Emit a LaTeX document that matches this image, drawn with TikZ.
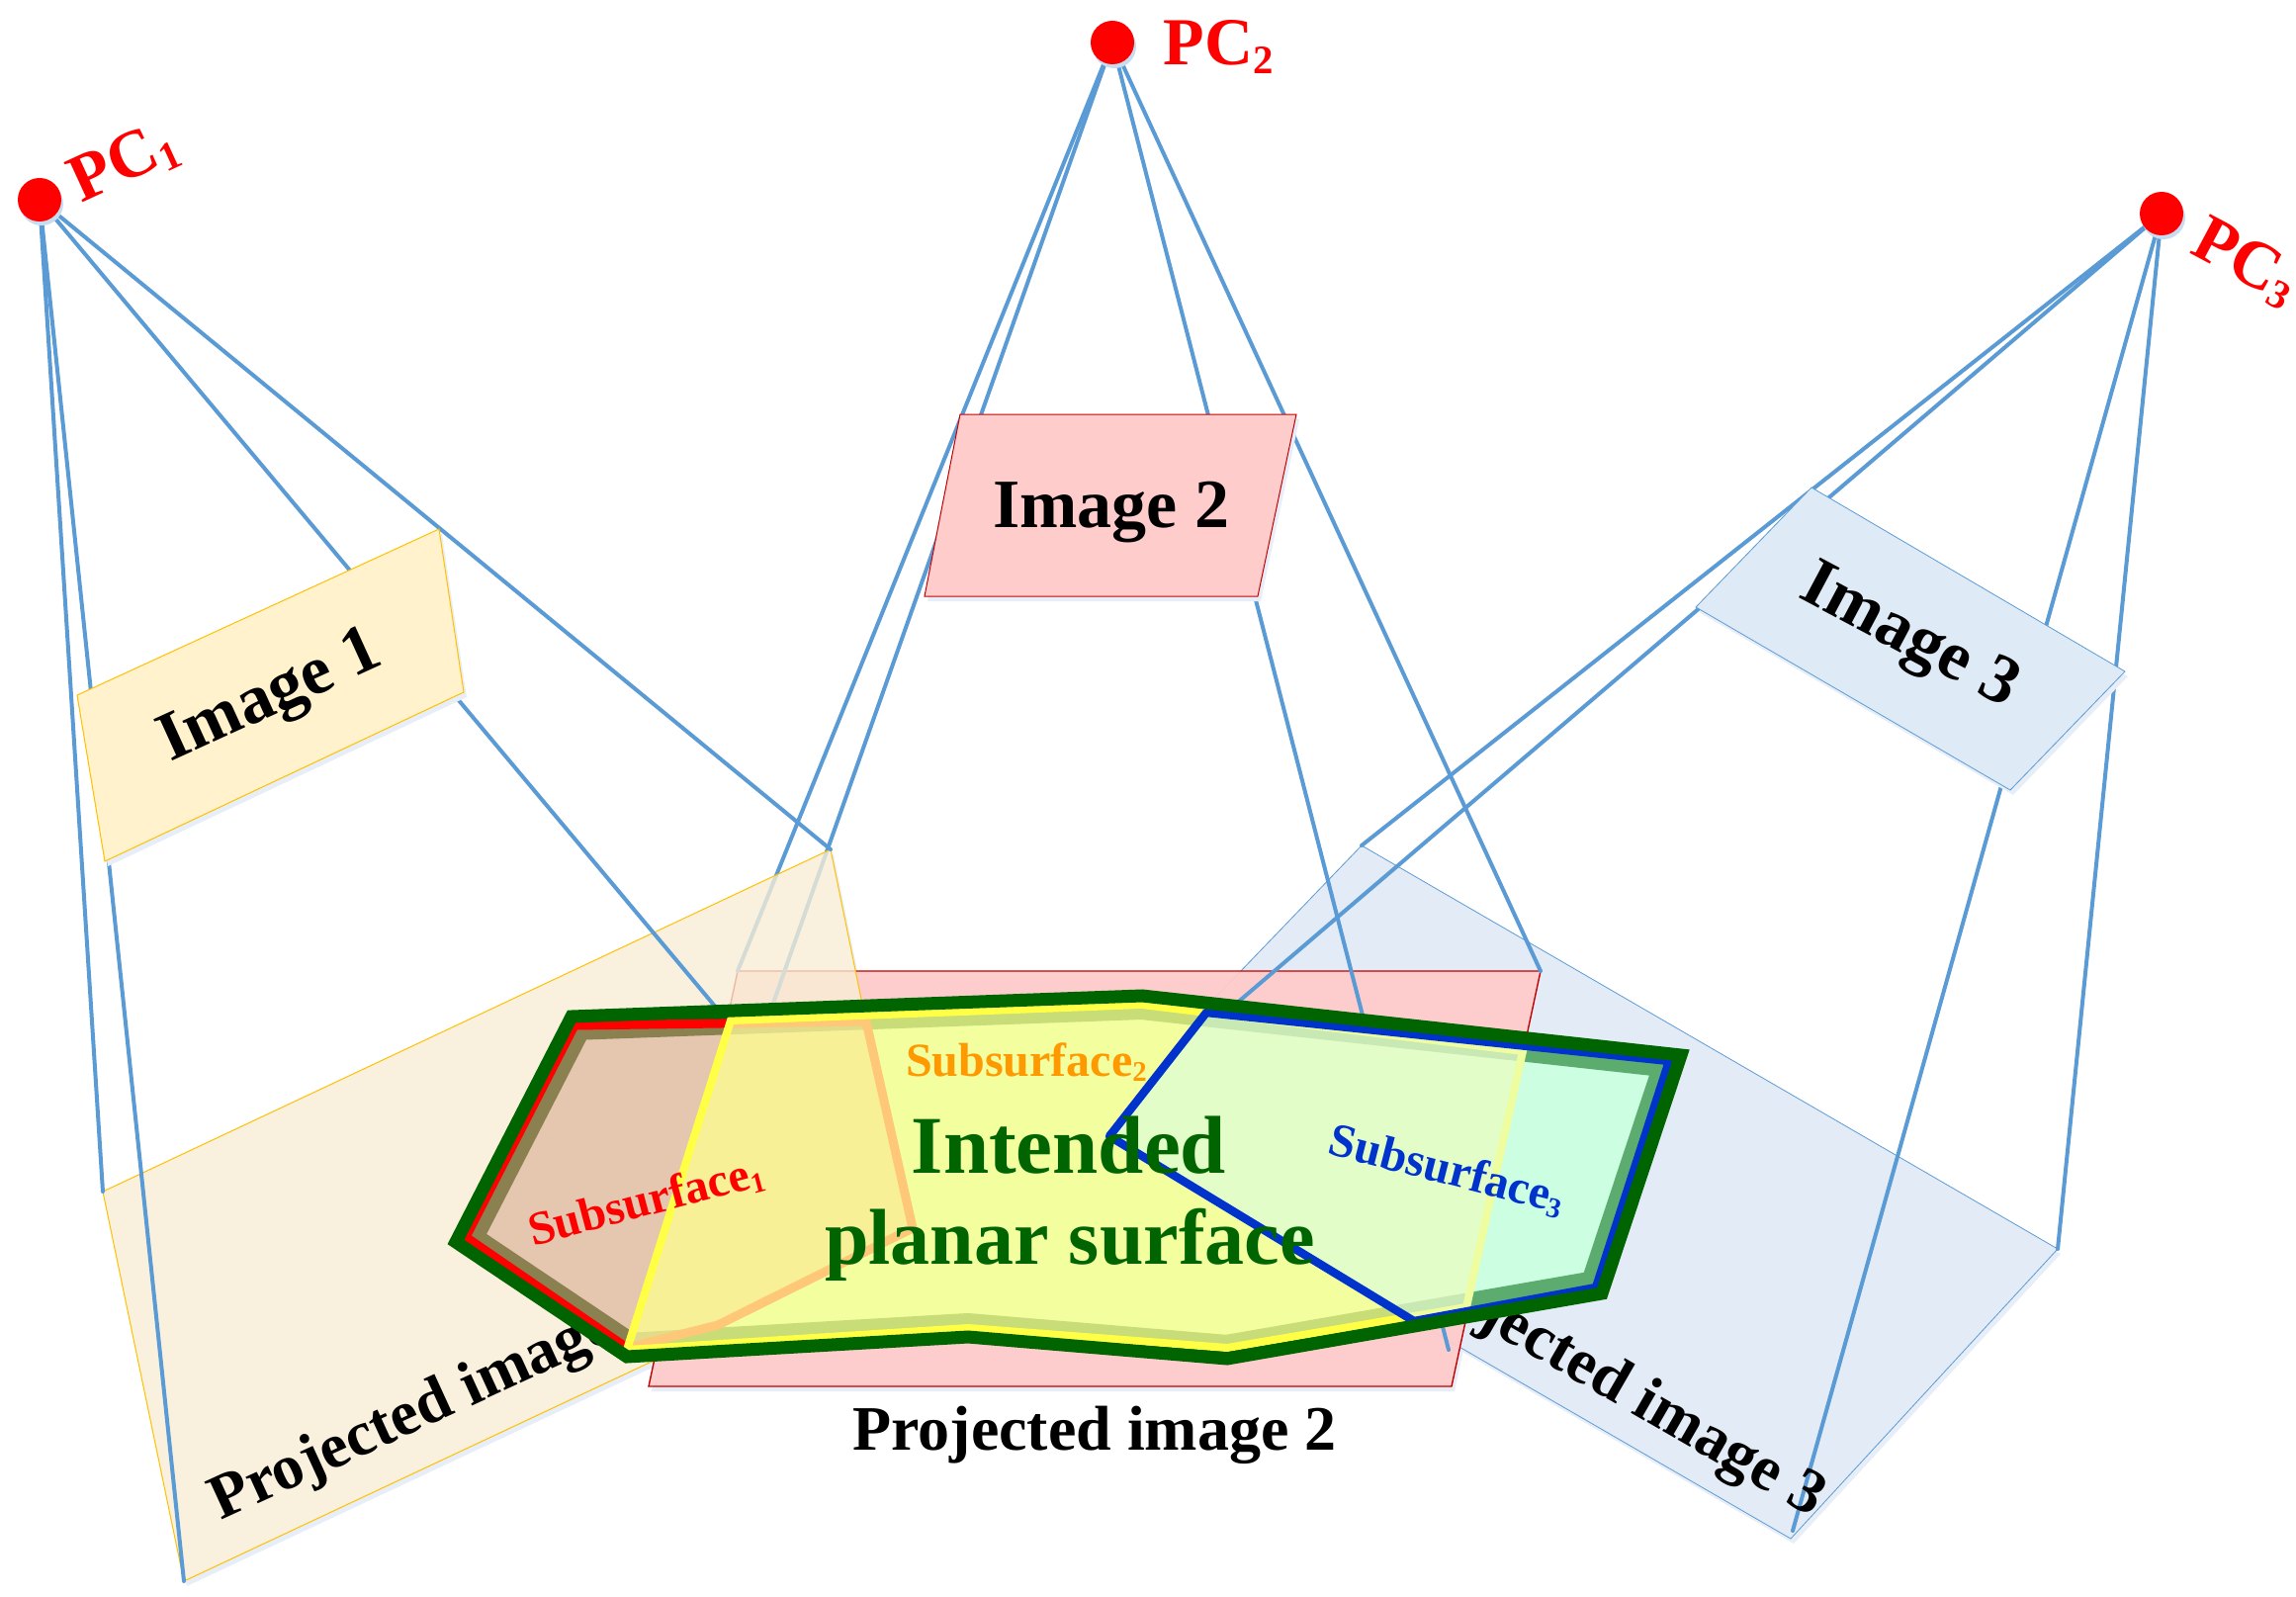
\documentclass[tikz,border=0pt]{standalone}
\usepackage{fontspec}
\setmainfont{Liberation Serif}
\newcommand{\sbn}[1]{\raisebox{-0.12em}{\scalebox{0.6}{#1}}}
\definecolor{ray}{HTML}{5B9BD5}
\definecolor{shadowc}{HTML}{E8EEF7}
\definecolor{dkgreen}{HTML}{006400}
\definecolor{subblue}{HTML}{0033CC}
\definecolor{suborange}{HTML}{FF9900}
\definecolor{projblue}{HTML}{E3ECF6}
\definecolor{projpink}{HTML}{FFCBCB}
\definecolor{edgered}{HTML}{C00000}
\definecolor{projbeige}{HTML}{F8EED5}
\definecolor{edgegold}{HTML}{FFC000}
\definecolor{imgbeige}{HTML}{FFF2CC}
\definecolor{imgpink}{HTML}{FFCCCC}
\definecolor{imgblue}{HTML}{DEEAF6}
\definecolor{fa}{HTML}{E4C7AE}
\definecolor{ba}{HTML}{8A8050}
\definecolor{fb}{HTML}{F3FE9E}
\definecolor{bb}{HTML}{C8DC78}
\definecolor{fab}{HTML}{F7F096}
\definecolor{bab}{HTML}{E0DC88}
\definecolor{orangeband}{HTML}{FFC878}
\definecolor{yellowline}{HTML}{FFFF46}
\definecolor{fc}{HTML}{CCFEE2}
\definecolor{bc}{HTML}{5CAC70}
\definecolor{fbc}{HTML}{E2FDC8}
\definecolor{bbc}{HTML}{C8E8B4}
\definecolor{paleyellow}{HTML}{EEFDA0}
\tikzset{
  x=0.5pt,y=-0.5pt,
  rayline/.style={ray,line width=2pt,line cap=round},
  shad/.style={fill=shadowc,draw=none,transform canvas={shift={(1.5pt,-2.5pt)}}},
  lab/.style={font=\bfseries\fontsize{#1}{#1}\selectfont,anchor=base,inner sep=0pt,text=black},
  dotc/.style={circle,fill=red,draw=none,minimum size=22pt,inner sep=0pt},
  dotshad/.style={circle,fill=ray!35,draw=none,minimum size=22pt,inner sep=0pt},
  pathG/.style={insert path={(g1)--(g2)--(g3)--(g4)--(g5)--(g6)--(g7)--(g8)--cycle}},
  pathA/.style={insert path={(a1)--(a2)--(a3)--(a4)--(a5)--(a6)--cycle}},
  pathB/.style={insert path={(b1)--(b2)--(b3)--(b4)--(b5)--(b6)--(b7)--cycle}},
  pathC/.style={insert path={(c1)--(c2)--(c3)--(c4)--(c5)--cycle}},
}
\begin{document}
\begin{tikzpicture}
\useasboundingbox (0,0) rectangle (2322,1615);
\clip (0,0) rectangle (2322,1615);
% camera centres
\coordinate (pc1) at (40,202);
\coordinate (pc2) at (1125,43);
\coordinate (pc3) at (2186,216);
% images
\coordinate (i1a) at (78,703); \coordinate (i1b) at (444,535); \coordinate (i1c) at (469,700); \coordinate (i1d) at (106,871);
\coordinate (i2a) at (971,419); \coordinate (i2b) at (1311,419); \coordinate (i2c) at (1272,603); \coordinate (i2d) at (935,603);
\coordinate (i3a) at (1832,493); \coordinate (i3b) at (2149,679); \coordinate (i3c) at (2033,799); \coordinate (i3d) at (1715,614);
% projected images
\coordinate (p1a) at (840,859); \coordinate (p1b) at (921,1254); \coordinate (p1c) at (186,1599); \coordinate (p1d) at (104,1205);
\coordinate (p2a) at (746,982); \coordinate (p2b) at (1558,982); \coordinate (p2c) at (1468,1402); \coordinate (p2d) at (656,1402);
\coordinate (p2e) at (1465,1365); \coordinate (p2f) at (667,1340);
\coordinate (p3a) at (1377,855); \coordinate (p3b) at (2081,1263); \coordinate (p3c) at (1811,1556); \coordinate (p3d) at (1099,1144);
\coordinate (p3e) at (1813,1548);
% intended surface and subsurfaces
\coordinate (g1) at (578,1028); \coordinate (g2) at (461,1256); \coordinate (g3) at (634,1372); \coordinate (g4) at (979,1352);
\coordinate (g5) at (1241,1374); \coordinate (g6) at (1620,1308); \coordinate (g7) at (1700,1067); \coordinate (g8) at (1155,1007);
\coordinate (a1) at (581,1037); \coordinate (a2) at (471,1251); \coordinate (a3) at (634,1363); \coordinate (a4) at (726,1340); \coordinate (a5) at (923,1242); \coordinate (a6) at (876,1033);
\coordinate (b1) at (739,1032); \coordinate (b2) at (634,1365); \coordinate (b3) at (979,1343); \coordinate (b4) at (1241,1363); \coordinate (b5) at (1483,1322); \coordinate (b6) at (1540,1063); \coordinate (b7) at (1155,1016);
\coordinate (c1) at (1220,1024); \coordinate (c2) at (1122,1149); \coordinate (c3) at (1430,1336); \coordinate (c4) at (1614,1302); \coordinate (c5) at (1688,1073);

% shadows of the projected images
\fill[shad] (p3a)--(p3b)--(p3c)--(p3d)--cycle;
\fill[shad] (p2a)--(p2b)--(p2c)--(p2d)--cycle;
\fill[shad] (p1a)--(p1b)--(p1c)--(p1d)--cycle;
\fill[white] (p1a)--(p1b)--(p1c)--(p1d)--cycle;
% projected image 3
\filldraw[fill=projblue,draw=ray,line width=0.4pt] (p3a)--(p3b)--(p3c)--(p3d)--cycle;
% projected image 2
\fill[projpink,fill opacity=0.93] (p2a)--(p2b)--(p2c)--(p2d)--cycle;
\draw[edgered,line width=0.7pt] (p2a)--(p2b)--(p2c)--(p2d)--cycle;
% rays of PC2 and PC3
\draw[rayline] (pc2)--(p2a);
\draw[rayline] (pc2)--(p2b);
\draw[rayline] (pc2)--(p2e);
\draw[rayline] (pc2)--(p2f);
\draw[rayline] (pc3)--(p3a);
\draw[rayline] (pc3)--(p3b);
\draw[rayline] (pc3)--(p3e);
\draw[rayline] (pc3)--(p3d);
% projected image 1
\fill[projbeige,fill opacity=0.78] (p1a)--(p1b)--(p1c)--(p1d)--cycle;
\draw[edgegold,line width=0.5pt] (p1a)--(p1b)--(p1c)--(p1d)--cycle;
% rays of PC1
\draw[rayline] (pc1)--(p1a);
\draw[rayline] (pc1)--(p1b);
\draw[rayline] (pc1)--(p1c);
\draw[rayline] (pc1)--(p1d);
% images
\fill[shad] (i1a)--(i1b)--(i1c)--(i1d)--cycle;
\filldraw[fill=imgbeige,draw=edgegold,line width=0.5pt] (i1a)--(i1b)--(i1c)--(i1d)--cycle;
\fill[shad] (i2a)--(i2b)--(i2c)--(i2d)--cycle;
\filldraw[fill=imgpink,draw=edgered,line width=0.5pt] (i2a)--(i2b)--(i2c)--(i2d)--cycle;
\fill[shad] (i3a)--(i3b)--(i3c)--(i3d)--cycle;
\filldraw[fill=imgblue,draw=ray,line width=0.4pt] (i3a)--(i3b)--(i3c)--(i3d)--cycle;
% camera dots
\node[dotshad] (s1) at (42,206) {};
\node[dotshad] (s2) at (1127,47) {};
\node[dotshad] (s3) at (2188,220) {};
\node[dotc] (d1) at (pc1) {};
\node[dotc] (d2) at (pc2) {};
\node[dotc] (d3) at (pc3) {};
% labels below the surface
\node[lab=32,rotate=24.6] (t1) at (446,1436) {Projected image 1};
\node[lab=32] (t2) at (1107,1466) {Projected image 2};
\node[lab=32,rotate=-30] (t3) at (1620,1412) {Projected image 3};

% intended surface
\fill[dkgreen,pathG];
% subsurface 1
\begin{scope}
  \clip[pathA];
  \fill[fa,pathA];
  \draw[ba,line width=24pt,pathG];
\end{scope}
\draw[red,line width=4.5pt,pathA];
% subsurface 2
\begin{scope}
  \clip[pathB];
  \fill[fb,pathB];
  \draw[bb,line width=24pt,pathG];
  \begin{scope}
    \clip[pathA];
    \fill[fab,pathA];
    \draw[bab,line width=24pt,pathG];
  \end{scope}
  \draw[orangeband,line width=4.5pt,pathA];
\end{scope}
\draw[yellowline,line width=4pt,pathB];
% subsurface 3
\begin{scope}
  \clip[pathC];
  \fill[fc,pathC];
  \draw[bc,line width=24pt,pathG];
  \begin{scope}
    \clip[pathB];
    \fill[fbc,pathB];
    \draw[bbc,line width=24pt,pathG];
  \end{scope}
  \draw[paleyellow,line width=4pt,pathB];
\end{scope}
\draw[subblue,line width=4.2pt,line join=round,pathC];
\draw[dkgreen,line width=6.5pt,pathG];

% labels
\node[lab=35,rotate=24.5] (n1) at (281,721) {Image 1};
\node[lab=35] (n2) at (1124,533) {Image 2};
\node[lab=35,rotate=-28] (n3) at (1923,660) {Image 3};
\node[lab=34,rotate=24.7,text=red] (l1) at (133,182) {PC\sbn{1}};
\node[lab=34,text=red] (l2) at (1232,66) {PC\sbn{2}};
\node[lab=34,rotate=-28,text=red] (l3) at (2262,282) {PC\sbn{3}};
\node[lab=24,rotate=14.8,text=red] (u1) at (657,1229) {Subsurface\sbn{1}};
\node[lab=24,text=suborange] (u2) at (1038,1088) {Subsurface\sbn{2}};
\node[lab=24,rotate=-14.3,text=subblue] (u3) at (1460,1197) {Subsurface\sbn{3}};
\node[lab=41.5,text=dkgreen] (m1) at (1081,1186) {Intended};
\node[lab=40,text=dkgreen] (m2) at (1082,1278) {planar surface};
\end{tikzpicture}
\end{document}
